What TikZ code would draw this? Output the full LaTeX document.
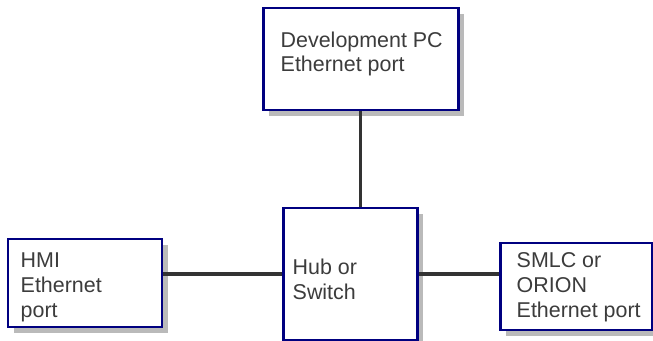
\documentclass[tikz,border=0pt]{standalone}
\usepackage{fontspec}
\setmainfont{Liberation Sans}
\usetikzlibrary{shadows}
\definecolor{boxblue}{HTML}{000080}
\definecolor{wiregray}{HTML}{333333}
\definecolor{textgray}{HTML}{3C3C3C}

\begin{document}
\begin{tikzpicture}[
    portbox/.style={draw=boxblue, line width=0.85pt, fill=white, inner sep=0pt,
        drop shadow={shadow xshift=1.6pt, shadow yshift=-1.6pt, opacity=0.45, fill=black!60}},
    porttext/.style={anchor=base west, align=left, inner sep=0pt, text=textgray,
        font=\fontsize{6.1}{7.1}\selectfont},
    wire/.style={draw=wiregray, line width=1.1pt}]

    \useasboundingbox (0,0) rectangle (6.53,-3.41);

    \node[portbox, minimum width=1.95cm, minimum height=1.02cm] (pc) at (3.605,-0.59) {};

    \node[portbox, minimum width=1.34cm, minimum height=1.32cm] (hub) at (3.50,-2.74) {};

    \node[portbox, minimum width=1.54cm, minimum height=0.88cm] (hmi) at (0.85,-2.83) {};

    \node[portbox, minimum width=1.52cm, minimum height=0.87cm] (smlc) at (5.76,-2.865) {};

    % the base anchor sits on the last line
    \node[porttext] (pctext) at (2.80,-0.72) {Development PC\\Ethernet port};

    \node[porttext] (hubtext) at (2.92,-2.99) {Hub or\\Switch};

    \node[porttext] (hmitext) at (0.20,-3.17) {HMI\\Ethernet\\port};

    \node[porttext] (smlctext) at (5.16,-3.17) {SMLC or\\ORION\\Ethernet port};

    \draw[wire] (pc.south) -- (pc.south |- hub.north);
    \draw[wire] (hub.west) -- (hub.west -| hmi.east);
    \draw[wire] (hub.east) -- (hub.east -| smlc.west);

\end{tikzpicture}
\end{document}
